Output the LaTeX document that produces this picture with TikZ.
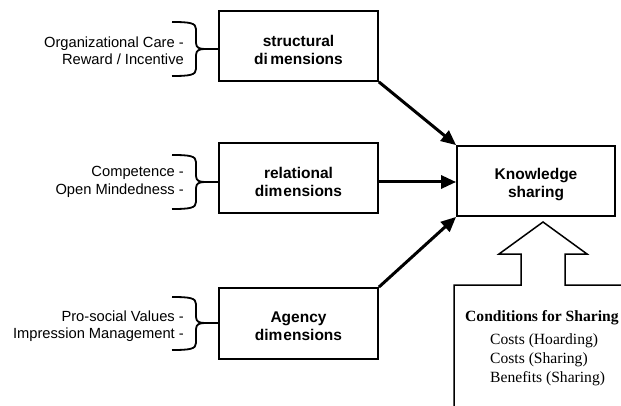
\documentclass[tikz,border=0pt]{standalone}
\usepackage{fontspec}
\setmainfont{Liberation Serif}
\newfontfamily\arialfont{Liberation Sans}
\usetikzlibrary{arrows.meta}

\begin{document}
\begin{tikzpicture}[x=1pt,y=-1pt,
  dimbox/.style={draw, line width=1.8pt, minimum width=159pt, minimum height=70pt, inner sep=0pt},
  boxlabel/.style={font=\arialfont\bfseries\fontsize{15.5}{18}\selectfont, align=center, inner sep=0pt},
  sidenote/.style={font=\arialfont\fontsize{14.7}{17.5}\selectfont, align=right, anchor=east, inner sep=0pt},
  influence/.style={line width=3pt, -{Triangle[length=15pt,width=13pt]}},
  bracket/.style={line width=1.8pt, line join=round},
  condtitle/.style={font=\bfseries\fontsize{15.6}{19}\selectfont, anchor=west, inner sep=0pt},
  conditem/.style={font=\fontsize{15.6}{19}\selectfont, anchor=west, inner sep=0pt}
]
\useasboundingbox (0,0) rectangle (621,406);

% dimension boxes
\node[dimbox] (sbox) at (298.5,46) {};
\node[dimbox] (rbox) at (298.5,178) {};
\node[dimbox, minimum height=71pt] (abox) at (298.5,323.5) {};
\node[boxlabel] (slab) at ([yshift=-4pt]sbox.center) {structural\\di\kern2.5pt mensions};
\node[boxlabel] (rlab) at ([yshift=-4pt]rbox.center) {relational\\dim\kern1pt ensions};
\node[boxlabel] (alab) at ([yshift=-3pt]abox.center) {Agency\\dim\kern1pt ensions};

% outcome box
\node[dimbox, minimum width=158pt] (kbox) at (536,181) {};
\node[boxlabel] (klab) at ([yshift=-4pt]kbox.center) {Knowledge\\sharing};

% influences on knowledge sharing
\draw[influence] (sbox.south east) -- (kbox.north west);
\draw[influence] (rbox.east |- 0,182) coordinate (rfrom) -- (kbox.west |- rfrom);
\draw[influence] (abox.north east) -- (kbox.south west);

% side notes with their braces
\node[sidenote] (snote) at (184,50.5) {Organizational Care -\\Reward / Incentive};
\node[sidenote] (rnote) at (184,182) {Competence -\\Open Mindedness -};
\node[sidenote] (anote) at (184,326) {Pro-social Values -\\Impression Management -};

\foreach \nm/\top/\tip/\bot in {sbox/22/49/76, rbox/155/182/209, abox/297/323/350}{
  \coordinate (\nm-tip) at (205,\tip);
  \draw[bracket] (172,\top) .. controls (190,\top) and (196,\top+1) .. (196,\top+7)
    -- (196,\tip-6) .. controls (196,\tip-1) and (200,\tip) .. (\nm-tip)
    -- (\nm.west |- \nm-tip);
  \draw[bracket] (\nm-tip) .. controls (200,\tip) and (196,\tip+1) .. (196,\tip+6)
    -- (196,\bot-7) .. controls (196,\bot-1) and (190,\bot) .. (172,\bot);
}

% block arrow carrying the conditions
\begin{scope}
  \clip (0,0) rectangle (621,406);
  \draw[line width=1.5pt, line join=miter]
    (454,412) -- (454,285) -- (521,285) -- (521,254) -- (499,254)
    -- (543,222) -- (587,254) -- (565,254) -- (565,285) -- (630,285);
\end{scope}
\node[condtitle] (ctitle) at (465,318) {Conditions for Sharing};
\node[conditem] (c1) at (490,341) {Costs (Hoarding)};
\node[conditem] (c2) at (490,360) {Costs (Sharing)};
\node[conditem] (c3) at (490,379) {Benefits (Sharing)};
\end{tikzpicture}
\end{document}
